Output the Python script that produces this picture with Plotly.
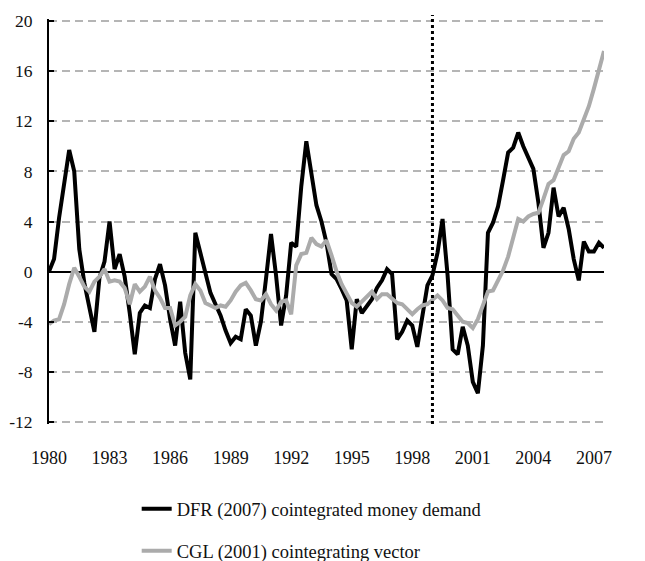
import plotly.graph_objects as go

# Quarterly periods 1980Q1 .. 2007Q3
quarters = [f"{1980 + i // 4}Q{i % 4 + 1}" for i in range(111)]

dfr_money_demand = [
    0.0, 1.0, 4.3, 7.2, 9.7, 8.0, 1.8, -0.9, -2.7, -4.8,
    -0.5, 0.8, 4.0, 0.2, 1.4, -0.4, -3.3, -6.6, -3.3, -2.7,
    -2.9, -0.6, 0.6, -1.1, -3.8, -5.9, -2.4, -6.5, -8.6, 3.1,
    1.5, -0.1, -1.7, -2.6, -3.5, -4.7, -5.7, -5.2, -5.4, -3.0,
    -3.5, -5.9, -4.0, -0.6, 3.0, -0.3, -4.3, -1.9, 2.3, 2.0,
    6.8, 10.4, 7.8, 5.3, 4.0, 2.3, -0.2, -0.6, -1.4, -2.3,
    -6.2, -2.2, -3.3, -2.7, -2.2, -1.3, -0.7, 0.2, -0.2, -5.4,
    -4.8, -3.9, -4.3, -6.0, -3.5, -1.1, -0.3, 1.5, 4.2, -0.3,
    -6.2, -6.6, -4.4, -5.9, -8.8, -9.7, -5.9, 3.1, 3.9, 5.2,
    7.3, 9.5, 9.9, 11.1, 10.0, 9.0, 8.2, 5.5, 1.9, 3.1,
    6.7, 4.4, 5.1, 3.4, 1.0, -0.7, 2.4, 1.6, 1.6, 2.3,
    1.9,
]

cgl_cointegrating_vector = [
    -4.2, -3.9, -3.8, -2.6, -1.0, 0.3, -0.4, -1.2, -1.6, -0.8,
    -0.4, 0.2, -0.8, -0.7, -0.8, -1.3, -2.6, -1.0, -1.6, -1.2,
    -0.4, -1.5, -2.1, -2.9, -2.9, -4.3, -4.0, -3.6, -1.9, -1.0,
    -1.5, -2.5, -2.7, -2.9, -2.7, -2.8, -2.3, -1.6, -1.1, -0.9,
    -1.5, -2.2, -2.3, -1.8, -2.6, -3.1, -2.4, -2.3, -3.4, 0.5,
    1.4, 1.5, 2.7, 2.2, 2.0, 2.5, 1.3, 0.0, -1.0, -1.8,
    -2.5, -2.8, -2.4, -2.0, -1.6, -2.2, -1.8, -1.8, -2.2, -2.5,
    -2.6, -3.0, -3.4, -3.0, -2.7, -2.6, -2.3, -1.9, -2.3, -2.9,
    -3.0, -3.5, -4.0, -4.1, -4.5, -3.8, -2.6, -1.6, -1.5, -0.7,
    0.1, 1.2, 2.8, 4.2, 4.0, 4.4, 4.6, 4.7, 5.8, 7.0,
    7.3, 8.3, 9.3, 9.6, 10.6, 11.1, 12.1, 13.2, 14.6, 16.0,
    17.6,
]

year_ticks = [1980, 1983, 1986, 1989, 1992, 1995, 1998, 2001, 2004, 2007]
y_ticks = [-12, -8, -4, 0, 4, 8, 12, 16, 20]
y_tick_labels = ["-12", "-8", "-4", "0", "4", "8", "12", "16", "20"]
break_period = "1999Q1"

names = ["DFR (2007) cointegrated money demand", "CGL (2001) cointegrating vector"]


def q_to_num(q):
    y, k = q.split("Q")
    return int(y) + (int(k) - 1) / 4.0


x = [q_to_num(q) for q in quarters]

FONT = "Liberation Serif, Times New Roman, Times, serif"
fs = 18
YR = [-12.16, 20.16]

fig = go.Figure()
fig.add_trace(go.Scatter(x=x, y=dfr_money_demand, mode="lines", name=names[0],
                         line=dict(color="#000000", width=4), legendgroup="a"))
fig.add_trace(go.Scatter(x=x, y=cgl_cointegrating_vector, mode="lines", name=names[1],
                         line=dict(color="#ababab", width=4), legendgroup="b"))

fig.add_shape(type="line", xref="x", yref="paper",
              x0=q_to_num(break_period), x1=q_to_num(break_period), y0=0, y1=1.01,
              line=dict(color="#000000", width=3, dash="dot"))

# page body has an 8px margin; size the figure so it fits the 645x561 window
fig.update_layout(
    width=637, height=553,
    margin=dict(l=41, r=41, t=11, b=137, autoexpand=False),
    paper_bgcolor="white", plot_bgcolor="white",
    font=dict(family=FONT, size=fs, color="#111111"),
    showlegend=True,
    legend=dict(x=0.158, xanchor="left", y=-0.1635, yanchor="top",
                orientation="v", tracegroupgap=15,
                font=dict(family=FONT, size=18.5, color="#111111"),
                bgcolor="rgba(0,0,0,0)"),
    xaxis=dict(range=[1980, 2007.5], tickvals=year_ticks,
               ticktext=[str(v) for v in year_ticks],
               showgrid=False, zeroline=False, showline=False, ticks="",
               ticklabelstandoff=21, tickfont=dict(family=FONT, size=fs)),
    xaxis2=dict(range=[1980, 2007.5], overlaying="x", anchor="free",
                position=12.16 / 32.32, tickvals=year_ticks[1:], showticklabels=False,
                ticks="inside", ticklen=5, tickwidth=1.5, tickcolor="#000000",
                showgrid=False, zeroline=False, showline=False),
    yaxis=dict(range=YR, tickvals=y_ticks, ticktext=y_tick_labels, showgrid=True,
               gridcolor="#b5b5b5", gridwidth=1.5, griddash="8px,5px",
               zeroline=True, zerolinecolor="#000000", zerolinewidth=1.5,
               showline=True, linecolor="#000000", linewidth=2,
               ticks="inside", ticklen=5, tickwidth=1.5, tickcolor="#000000",
               ticklabelstandoff=11, tickfont=dict(family=FONT, size=17.5)),
    yaxis2=dict(range=YR, tickvals=y_ticks, ticktext=y_tick_labels,
                overlaying="y", side="right",
                showgrid=False, zeroline=False,
                showline=True, linecolor="#000000", linewidth=2,
                ticks="inside", ticklen=5, tickwidth=1.5, tickcolor="#000000",
                ticklabelstandoff=11, tickfont=dict(family=FONT, size=17.5)),
)

fig.write_html("out.html")
